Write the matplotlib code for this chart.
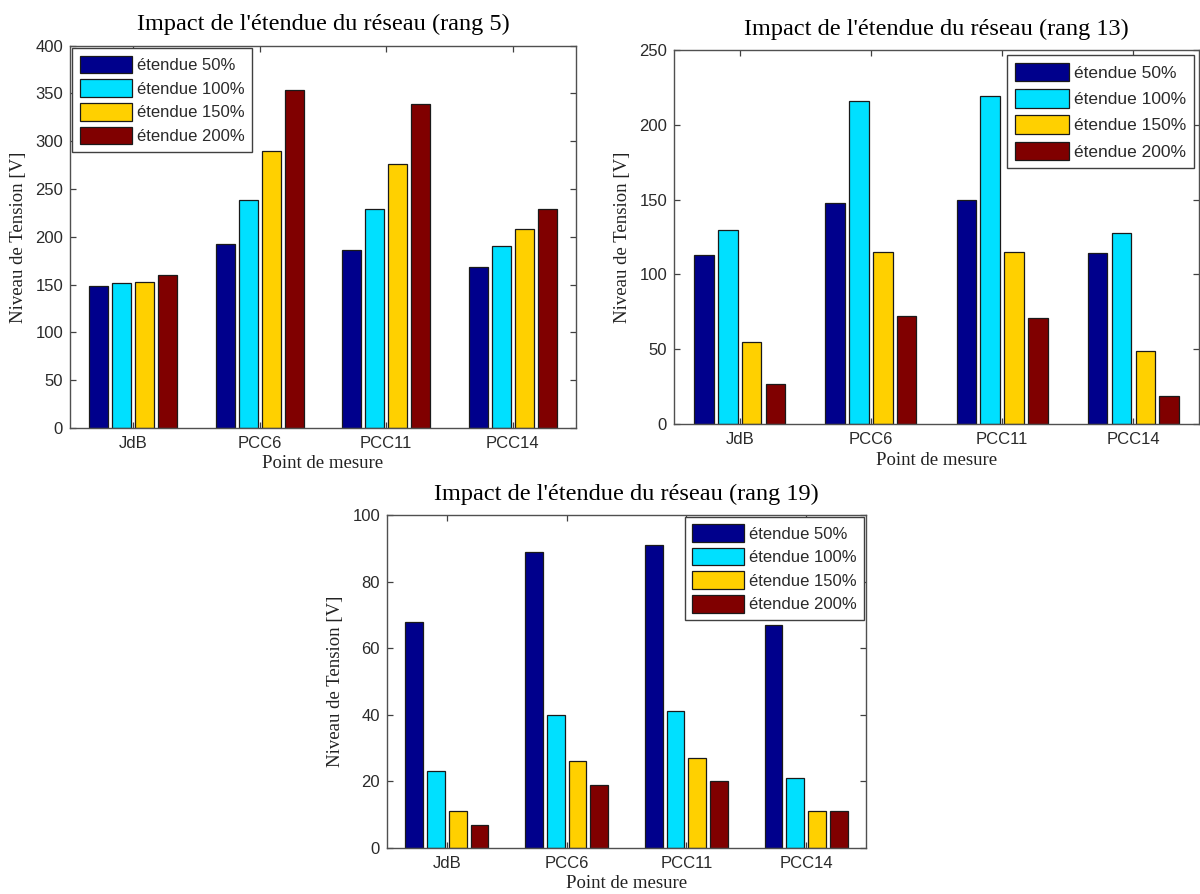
import matplotlib.pyplot as plt
import numpy as np

points = ['JdB', 'PCC6', 'PCC11', 'PCC14']
series = ['étendue 50%', 'étendue 100%', 'étendue 150%', 'étendue 200%']
colors = ['#00008C', '#00E0FF', '#FFD000', '#800000']

# values per series (50%, 100%, 150%, 200%) at JdB, PCC6, PCC11, PCC14
rang5 = [[149, 192, 186, 168],
         [152, 239, 229, 190],
         [153, 290, 276, 208],
         [160, 354, 339, 229]]
rang13 = [[113, 148, 150, 114],
          [130, 216, 219, 128],
          [55, 115, 115, 49],
          [27, 72, 71, 19]]
rang19 = [[68, 89, 91, 67],
          [23, 40, 41, 21],
          [11, 26, 27, 11],
          [7, 19, 20, 11]]

sans = ['Liberation Sans', 'DejaVu Sans']
serif = ['Liberation Serif', 'DejaVu Serif']


def draw(ax, data, rang, ymax, ystep, loc, axpad, lsize=12, lspace=0.36):
    x = np.arange(1, len(points) + 1)
    slot = 0.727 / len(data)
    for i, vals in enumerate(data):
        ax.bar(x + (i - 1.5) * slot, vals, width=0.82 * slot, color=colors[i],
               edgecolor='#1a1a1a', linewidth=0.9, label=series[i], zorder=2)
    ax.set_xlim(0.5, 4.5)
    ax.set_ylim(0, ymax)
    ax.set_xticks(x)
    ax.set_xticklabels(points, family=sans, fontsize=12, color='#2a2a2a')
    ax.set_yticks(np.arange(0, ymax + 1, ystep))
    ax.set_yticklabels([str(v) for v in np.arange(0, ymax + 1, ystep)],
                       family=sans, fontsize=12, color='#2a2a2a')
    ax.tick_params(direction='in', top=True, right=True, length=4,
                   width=0.9, color='#404040')
    ax.tick_params(axis='x', pad=6)
    ax.tick_params(axis='y', pad=5)
    for s in ax.spines.values():
        s.set_color('#505050')
        s.set_linewidth(1.0)
    ax.set_title("Impact de l'étendue du réseau (rang %d)" % rang,
                 family=serif, fontsize=17.5, pad=11)
    ax.set_xlabel('Point de mesure', family=serif, fontsize=13.5,
                  color='#222222', labelpad=3)
    ax.set_ylabel('Niveau de Tension [V]', family=serif, fontsize=13.5,
                  color='#222222', labelpad=6)
    leg = ax.legend(loc=loc, prop={'family': sans, 'size': lsize},
                    fancybox=False, framealpha=1, edgecolor='#404040',
                    handlelength=3.1, handleheight=1.25, handletextpad=0.3,
                    labelspacing=lspace, borderpad=0.45, borderaxespad=axpad)
    leg.get_frame().set_linewidth(1.0)
    for t in leg.get_texts():
        t.set_color('#2a2a2a')


fig = plt.figure(figsize=(12, 8.94), dpi=100)
ax1 = fig.add_axes([0.0583, 0.5213, 0.4217, 0.4276])
ax2 = fig.add_axes([0.5617, 0.5257, 0.4375, 0.4183])
ax3 = fig.add_axes([0.3225, 0.0515, 0.3992, 0.3725])

draw(ax1, rang5, 5, 400, 50, 'upper left', 0.15)
draw(ax2, rang13, 13, 250, 50, 'upper right', 0.3, lsize=12.5, lspace=0.45)
draw(ax3, rang19, 19, 100, 20, 'upper right', 0.1)

fig.savefig('out.png', dpi=100, facecolor='white')
